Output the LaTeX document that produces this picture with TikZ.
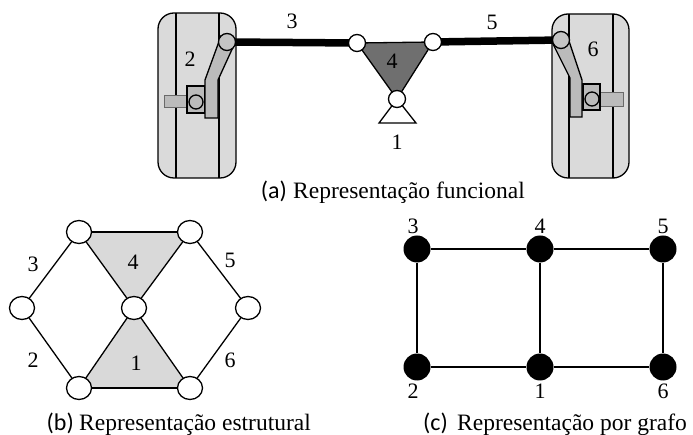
\documentclass[tikz,border=0pt]{standalone}
\usepackage{fontspec}
\setmainfont{Liberation Serif}
\newfontfamily\tagfont{Carlito}
\usetikzlibrary{shapes.geometric}

\definecolor{tyregray}{HTML}{DADADA}
\definecolor{partgray}{HTML}{BBBBBB}
\definecolor{pingray}{HTML}{C4C4C4}
\definecolor{stubgray}{HTML}{6A6A6A}
\definecolor{rockergray}{HTML}{6F6F6F}
\definecolor{linkgray}{HTML}{D9D9D9}

\begin{document}
\begin{tikzpicture}[x=1pt,y=-1pt,
  thinline/.style={line width=1.3pt},
  rodline/.style={line width=7.5pt},
  tyre/.style={thinline, fill=tyregray, rounded corners=16pt},
  part/.style={thinline, fill=partgray},
  stub/.style={line width=1pt, draw=stubgray, fill=partgray},
  pin/.style={circle, draw, thinline, fill=pingray, minimum size=17pt, inner sep=0pt},
  smallpin/.style={circle, draw, thinline, fill=partgray, minimum size=14pt, inner sep=0pt},
  joint/.style={circle, draw, thinline, fill=white, minimum size=17pt, inner sep=0pt},
  hinge/.style={ellipse, draw, thinline, fill=white, minimum width=25pt, minimum height=23pt, inner sep=0pt},
  vertex/.style={circle, fill=black, minimum size=27pt, inner sep=0pt},
  grafoedge/.style={line width=1.5pt},
  lbl/.style={inner sep=0pt, font=\fontsize{22}{26}\selectfont},
  captext/.style={inner sep=0pt, font=\fontsize{23.5}{28}\selectfont},
  captag/.style={inner sep=0pt, font=\tagfont\fontsize{24}{28}\selectfont}]

\useasboundingbox (0,0) rectangle (693,435);

% ---------------- (a) functional layout ----------------
\coordinate (P2) at (227,42);
\coordinate (P6) at (561,40);
\coordinate (J3) at (357,43);
\coordinate (J5) at (433,42);
\coordinate (J1) at (397,99);

% left wheel
\draw[tyre] (158,13) rectangle (236,178);
\draw[thinline] (176,13) -- (176,178);
\draw[thinline] (219,13) -- (219,178);
\draw[stub] (164,96) rectangle (188,108);
\draw[part] (187,86) rectangle (205,113);
\node[smallpin] (h2) at (196,102) {};
\draw[part] (221,36) -- (205,80) -- (205,118) -- (218,118) -- (218,80) -- (234,45) -- cycle;

% right wheel
\draw[tyre] (552,14) rectangle (629,178);
\draw[thinline] (569,14) -- (569,178);
\draw[thinline] (613,14) -- (613,178);
\draw[stub] (600,93) rectangle (623,107);
\draw[part] (583,84) rectangle (600,110);
\node[smallpin] (h6) at (592,99) {};
\draw[part] (553,44) -- (570,78) -- (570,117) -- (582,117) -- (582,80) -- (567,35) -- cycle;

% tie rods
\draw[rodline] (P2) -- (J3);
\draw[rodline] (J5) -- (P6);

% rocker and ground
\draw[thinline, fill=rockergray] (J3) -- (J5) -- (J1) -- cycle;
\draw[thinline, fill=white] (J1) -- (379,123) -- (416,123) -- cycle;

\node[pin] (p2) at (P2) {};
\node[pin] (p6) at (P6) {};
\node[joint] (j3) at (J3) {};
\node[joint] (j5) at (J5) {};
\node[joint] (j1) at (J1) {};

\node[lbl] (la2) at (190,59) {2};
\node[lbl] (la3) at (292,21) {3};
\node[lbl] (la4) at (392,61) {4};
\node[lbl] (la5) at (492,22) {5};
\node[lbl] (la6) at (593,49) {6};
\node[lbl] (la1) at (397,142) {1};

\node[captag, anchor=base east] (tga) at (287,199) {(a)};
\node[captext, anchor=base west] (cpa) at (293,199) {Representação funcional};

% ---------------- (b) structural layout ----------------
\coordinate (BTL) at (79,232);
\coordinate (BTR) at (190,232);
\coordinate (BL)  at (22,308);
\coordinate (BC)  at (134,308);
\coordinate (BR)  at (248,308);
\coordinate (BBL) at (79,388);
\coordinate (BBR) at (190,388);

\fill[linkgray] (BTL) -- (BTR) -- (BC) -- cycle;
\fill[linkgray] (BBL) -- (BBR) -- (BC) -- cycle;
\draw[thinline] (BTL) -- (BL) -- (BBL) -- (BC) -- (BTL);
\draw[thinline] (BTR) -- (BR) -- (BBR) -- (BC) -- (BTR);
\draw[line width=2pt] (BTL) -- (BTR);
\draw[line width=2pt] (BBL) -- (BBR);

\node[hinge] (btl) at (BTL) {};
\node[hinge] (btr) at (BTR) {};
\node[hinge] (bl)  at (BL)  {};
\node[hinge] (bc)  at (BC)  {};
\node[hinge] (br)  at (BR)  {};
\node[hinge] (bbl) at (BBL) {};
\node[hinge] (bbr) at (BBR) {};

\node[lbl] (lb3) at (33,264) {3};
\node[lbl] (lb4) at (133,262) {4};
\node[lbl] (lb5) at (230,260) {5};
\node[lbl] (lb2) at (33,360) {2};
\node[lbl] (lb1) at (136,363) {1};
\node[lbl] (lb6) at (230,360) {6};

\node[captag, anchor=base east] (tgb) at (74,430) {(b)};
\node[captext, anchor=base west] (cpb) at (79,430) {Representação estrutural};

% ---------------- (c) graph ----------------
\node[vertex] (c3) at (417,249) {};
\node[vertex] (c4) at (540,249) {};
\node[vertex] (c5) at (663,249) {};
\node[vertex] (c2) at (417,367) {};
\node[vertex] (c1) at (540,367) {};
\node[vertex] (c6) at (663,367) {};

\draw[grafoedge] (c3) -- (c4);
\draw[grafoedge] (c4) -- (c5);
\draw[grafoedge] (c3) -- (c2);
\draw[grafoedge] (c4) -- (c1);
\draw[grafoedge] (c5) -- (c6);
\draw[grafoedge] (c2) -- (c1);
\draw[grafoedge] (c1) -- (c6);

\node[lbl] (lc3) at (413,226) {3};
\node[lbl] (lc4) at (540,226) {4};
\node[lbl] (lc5) at (663,226) {5};
\node[lbl] (lc2) at (413,391) {2};
\node[lbl] (lc1) at (540,391) {1};
\node[lbl] (lc6) at (663,391) {6};

\node[captag, anchor=base east] (tgc) at (448,430) {(c)};
\node[captext, anchor=base west] (cpc) at (457,430) {Representação por grafo};

\end{tikzpicture}
\end{document}
